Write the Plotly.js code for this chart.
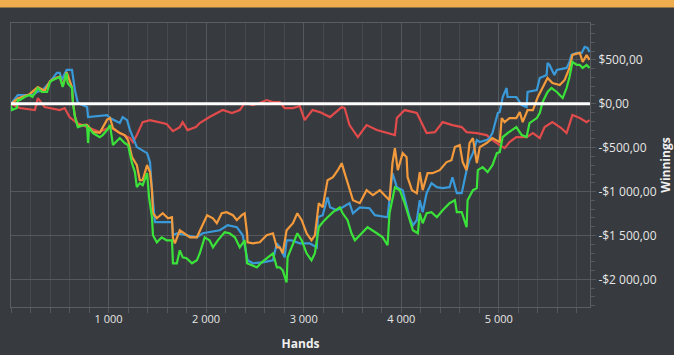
<!DOCTYPE html>
<html>
<head>
<meta charset="utf-8">
<script src="https://cdn.plot.ly/plotly-3.0.1.min.js"></script>
<style>
html,body{margin:0;padding:0;background:#373a3e;overflow:hidden;}
#chart{width:674px;height:355px;}
</style>
</head>
<body>
<div id="chart"></div>
<script>
// ---- data: [hand, winnings] ----
const red = [[0,0],[90,-48],[245,-71],[275,66],[345,-37],[500,-71],[550,-48],[600,-151],[675,-219],[780,-265],[910,-322],[1015,-265],[1115,-333],[1220,-390],[1250,-436],[1290,-356],[1350,-208],[1425,-185],[1525,-208],[1595,-230],[1660,-311],[1730,-265],[1760,-208],[1810,-299],[1895,-265],[1935,-219],[2035,-151],[2110,-105],[2170,-71],[2265,-105],[2345,-71],[2395,9],[2480,-14],[2550,9],[2620,43],[2685,21],[2755,21],[2805,-48],[2890,-48],[2960,-25],[3010,-185],[3090,-71],[3165,-94],[3270,-151],[3390,-37],[3420,-48],[3470,-242],[3555,-379],[3645,-242],[3750,-299],[3850,-333],[3935,-356],[3955,-162],[4035,-71],[4160,-105],[4220,-242],[4260,-333],[4345,-322],[4425,-208],[4525,-242],[4620,-265],[4670,-322],[4775,-333],[4875,-356],[4935,-413],[5010,-470],[5060,-505],[5110,-436],[5180,-379],[5285,-379],[5350,-333],[5420,-390],[5470,-265],[5550,-208],[5640,-276],[5695,-333],[5755,-128],[5830,-162],[5900,-208],[5930,-185]];

const blue = [[0,0],[70,100],[220,100],[265,135],[325,158],[400,249],[470,352],[500,352],[520,272],[550,352],[570,386],[625,386],[655,158],[685,9],[780,-37],[790,-151],[985,-128],[1015,-162],[1115,-219],[1145,-151],[1190,-185],[1220,-299],[1250,-379],[1290,-493],[1395,-562],[1425,-664],[1445,-984],[1455,-1098],[1475,-1349],[1650,-1349],[1660,-1498],[1700,-1475],[1800,-1498],[1905,-1521],[1965,-1475],[2035,-1464],[2140,-1441],[2220,-1384],[2315,-1406],[2375,-1498],[2425,-1783],[2480,-1817],[2580,-1806],[2685,-1783],[2725,-1589],[2755,-1635],[2805,-1749],[2825,-1555],[2875,-1555],[2960,-1589],[3060,-1589],[3135,-1635],[3145,-1292],[3195,-1269],[3245,-1064],[3270,-1179],[3340,-1212],[3400,-1179],[3470,-1132],[3505,-1247],[3575,-1179],[3675,-1190],[3730,-1269],[3860,-1292],[3880,-1098],[3910,-790],[3955,-950],[4015,-984],[4085,-1292],[4120,-1384],[4160,-1326],[4190,-1098],[4220,-1235],[4260,-1018],[4310,-904],[4365,-950],[4425,-961],[4495,-950],[4525,-836],[4570,-1018],[4620,-1018],[4670,-756],[4700,-642],[4735,-562],[4775,-413],[4805,-436],[4875,-413],[4905,-390],[4935,-333],[4990,-105],[5010,-94],[5040,78],[5080,180],[5090,78],[5180,78],[5235,-14],[5285,-37],[5295,135],[5390,158],[5420,295],[5490,329],[5500,466],[5520,443],[5570,329],[5595,386],[5695,409],[5725,477],[5745,557],[5800,580],[5850,580],[5880,648],[5910,637],[5930,591]];

const orange = [[0,0],[70,60],[190,110],[275,190],[345,150],[400,260],[470,300],[500,310],[530,200],[570,360],[625,190],[635,20],[655,-140],[685,-250],[755,-240],[780,-240],[840,-320],[910,-330],[985,-180],[1015,-162],[1045,-276],[1115,-333],[1165,-356],[1200,-413],[1240,-607],[1290,-699],[1320,-870],[1350,-870],[1395,-699],[1425,-778],[1445,-984],[1455,-1247],[1495,-1304],[1555,-1247],[1610,-1304],[1650,-1292],[1660,-1532],[1680,-1589],[1730,-1441],[1780,-1475],[1835,-1521],[1905,-1521],[1955,-1406],[2010,-1269],[2070,-1304],[2110,-1361],[2160,-1247],[2210,-1235],[2275,-1269],[2315,-1326],[2365,-1269],[2395,-1247],[2420,-1475],[2425,-1578],[2480,-1589],[2550,-1578],[2620,-1498],[2685,-1475],[2725,-1635],[2755,-1635],[2785,-1703],[2825,-1441],[2890,-1361],[2935,-1247],[2980,-1326],[3030,-1475],[3080,-1555],[3115,-1498],[3155,-1132],[3195,-1179],[3245,-870],[3300,-836],[3350,-756],[3390,-676],[3420,-790],[3470,-984],[3505,-1098],[3575,-1132],[3645,-984],[3710,-1041],[3780,-984],[3850,-1064],[3880,-1098],[3910,-676],[3935,-505],[3965,-756],[4015,-562],[4055,-607],[4065,-836],[4110,-984],[4160,-1018],[4190,-778],[4220,-984],[4270,-790],[4320,-790],[4395,-756],[4465,-664],[4515,-642],[4550,-493],[4600,-470],[4630,-664],[4670,-756],[4700,-447],[4735,-390],[4775,-676],[4805,-493],[4875,-447],[4935,-390],[5010,-436],[5030,-162],[5060,-208],[5110,-162],[5180,-162],[5215,-94],[5245,-208],[5295,-71],[5350,-71],[5400,78],[5450,192],[5500,295],[5550,237],[5625,215],[5675,272],[5725,409],[5755,557],[5830,580],[5860,477],[5900,557],[5930,500]];

const green = [[0,-20],[10,-71],[60,-48],[70,43],[90,43],[140,78],[190,100],[220,78],[275,180],[315,135],[370,135],[400,249],[430,272],[470,295],[500,306],[530,192],[570,352],[580,237],[625,180],[635,9],[655,-151],[685,-265],[755,-242],[780,-250],[790,-447],[800,-270],[840,-333],[910,-379],[940,-356],[985,-299],[1015,-242],[1045,-470],[1115,-390],[1165,-447],[1200,-470],[1240,-676],[1270,-778],[1290,-950],[1320,-904],[1350,-927],[1395,-790],[1415,-1064],[1445,-1292],[1455,-1498],[1495,-1578],[1545,-1521],[1595,-1555],[1650,-1555],[1660,-1817],[1700,-1817],[1730,-1669],[1760,-1749],[1800,-1760],[1855,-1817],[1905,-1783],[1935,-1703],[1985,-1521],[2035,-1555],[2070,-1635],[2120,-1555],[2190,-1464],[2240,-1475],[2295,-1521],[2345,-1635],[2395,-1555],[2420,-1817],[2470,-1840],[2520,-1863],[2570,-1806],[2630,-1749],[2685,-1703],[2725,-1863],[2755,-1863],[2785,-1897],[2825,-2034],[2835,-1749],[2875,-1635],[2935,-1475],[2980,-1555],[3030,-1703],[3080,-1783],[3115,-1703],[3155,-1406],[3195,-1349],[3245,-1292],[3300,-1235],[3370,-1179],[3400,-1247],[3450,-1326],[3490,-1475],[3525,-1555],[3595,-1475],[3655,-1406],[3750,-1475],[3810,-1521],[3860,-1612],[3880,-1247],[3935,-950],[3985,-984],[4035,-1132],[4085,-1326],[4120,-1441],[4170,-1475],[4190,-1247],[4220,-1361],[4260,-1247],[4310,-1235],[4365,-1292],[4425,-1212],[4495,-1132],[4550,-1098],[4570,-1235],[4620,-1235],[4650,-1326],[4670,-1406],[4680,-1098],[4735,-984],[4775,-961],[4785,-756],[4835,-721],[4885,-778],[4935,-699],[4980,-562],[5010,-550],[5040,-379],[5090,-333],[5180,-265],[5235,-356],[5285,-379],[5315,-219],[5390,-162],[5420,-105],[5450,21],[5500,135],[5540,180],[5595,135],[5625,100],[5655,66],[5695,180],[5725,306],[5755,477],[5800,443],[5830,443],[5860,409],[5900,443],[5930,409]];

const xTickVals = [1000, 2000, 3000, 4000, 5000];
const xTickText = ["1 000", "2 000", "3 000", "4 000", "5 000"];
const yTickVals = [500, 0, -500, -1000, -1500, -2000];
const yTickText = ["$500,00", "$0,00", "-$500,00", "-$1 000,00", "-$1 500,00", "-$2 000,00"];
const headerText = "Winnings: $442,15";

const series = [
  {name: "red", pts: red, color: "#e24b4b"},
  {name: "blue", pts: blue, color: "#3a9ad9"},
  {name: "orange", pts: orange, color: "#f39a3c"},
  {name: "green", pts: green, color: "#3ae23a"}
];

const traces = series.map(s => ({
  type: "scatter", mode: "lines", name: s.name,
  x: s.pts.map(p => p[0]), y: s.pts.map(p => p[1]),
  line: {color: s.color, width: 2.2}, hoverinfo: "skip"
}));

const W = 674, H = 355, mL = 11, mR = 84, mT = 23, mB = 48;
const pw = W - mL - mR, ph = H - mT - mB;
const yRange = [-2315, 921];
// faint grid lines halfway between labelled values
const yHalf = [];
for (let v = -2250; v <= 900; v += 500) yHalf.push(v);

const layout = {
  width: W, height: H,
  margin: {l: mL, r: mR, t: mT, b: mB, pad: 0},
  paper_bgcolor: "#373a3e", plot_bgcolor: "#373a3e",
  showlegend: false,
  font: {family: "Open Sans, sans-serif", color: "#e6e6e6", size: 11},
  xaxis: {
    range: [0, 5935], tickmode: "array", tickvals: xTickVals, ticktext: xTickText,
    showgrid: true, gridcolor: "#55585c", gridwidth: 1,
    ticks: "outside", ticklen: 5, tickcolor: "#55585c", ticklabelstandoff: -3,
    showline: true, linecolor: "#5a5d61", mirror: true, zeroline: false,
    tickfont: {size: 11, color: "#e6e6e6"},
    minor: {tickmode: "linear", tick0: 0, dtick: 200, showgrid: true, gridcolor: "#47494d", ticks: "outside", ticklen: 5, tickcolor: "#55585c"},
    title: {text: "Hands", font: {size: 12, color: "#f0f0f0", weight: "bold"}, standoff: 14}
  },
  yaxis: {
    side: "right", range: yRange, tickmode: "array", tickvals: yTickVals, ticktext: yTickText,
    showgrid: true, gridcolor: "#55585c", gridwidth: 1,
    ticks: "outside", ticklen: 5, tickcolor: "#55585c",
    showline: true, linecolor: "#5a5d61", mirror: true, zeroline: false,
    tickfont: {size: 12, color: "#e6e6e6"},
    minor: {tickmode: "linear", tick0: 0, dtick: 100, showgrid: false, ticks: "outside", ticklen: 4, tickcolor: "#55585c"},
    title: {text: "Winnings", font: {size: 12, color: "#f0f0f0", weight: "bold"}, standoff: 14}
  },
  yaxis2: {
    overlaying: "y", side: "right", range: yRange, tickmode: "array", tickvals: yHalf,
    showticklabels: false, ticks: "", showgrid: true, gridcolor: "#47494d", zeroline: false, showline: false
  },
  shapes: [
    {type: "line", xref: "paper", yref: "y", x0: 0, x1: 1, y0: 0, y1: 0, line: {color: "#ffffff", width: 3}, layer: "above"},
    {type: "rect", xref: "paper", yref: "paper", x0: -mL/pw, x1: (W - mL)/pw, y0: (ph + mT - 7.5)/ph, y1: (ph + mT + 5)/ph, fillcolor: "#f0ad4e", line: {width: 0}, layer: "below"}
  ],
  annotations: [
    {xref: "paper", yref: "paper", x: -mL/pw + 1/pw, y: (ph + mT - 3.5)/ph, xanchor: "left", yanchor: "bottom", showarrow: false, text: headerText, font: {size: 13, color: "#1e1e1e", family: "Open Sans, sans-serif"}}
  ]
};

Plotly.newPlot("chart", traces, layout, {displayModeBar: false, staticPlot: true});
</script>
</body>
</html>
